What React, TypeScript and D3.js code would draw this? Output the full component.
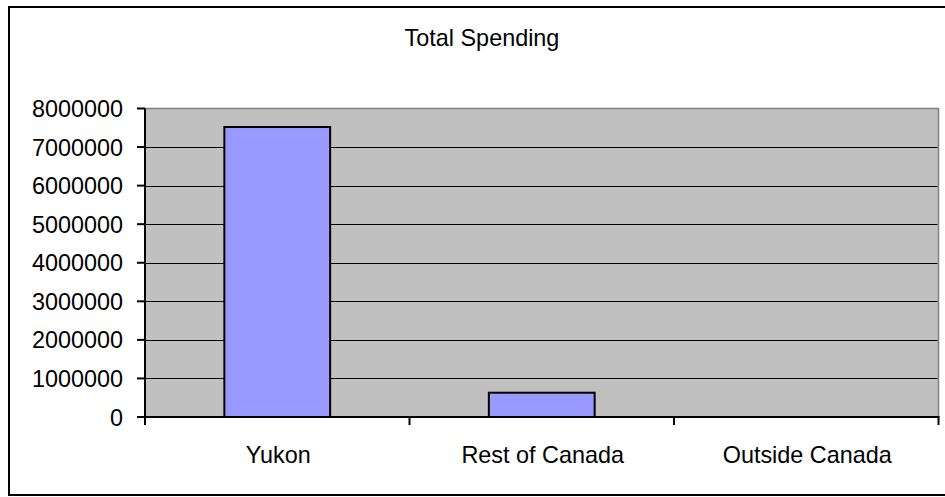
import React from "react";
import * as d3 from "d3";

const categories: string[] = ["Yukon", "Rest of Canada", "Outside Canada"];
const values: number[] = [7520000, 630000, 0];
const yTicks: number[] = [0, 1000000, 2000000, 3000000, 4000000, 5000000, 6000000, 7000000, 8000000];
const title = "Total Spending";

export default function App() {
  const W = 945;
  const H = 497;
  const left = 145;
  const right = 938.5;
  const top = 108.5;
  const bottom = 417;
  const font = "'Liberation Sans', Arial, sans-serif";
  const fs = 23.4;

  const x = d3.scaleBand<string>().domain(categories).range([left, right]).paddingInner(0.6).paddingOuter(0.3);
  const y = d3.scaleLinear().domain([0, 8000000]).range([bottom, top]);
  const step = x.step();
  const catTicks = d3.range(categories.length + 1).map((i) => left + i * ((right - left) / categories.length));

  return (
    <svg width={W} height={H} style={{ position: "absolute", left: 0, top: 0, display: "block" }}>
      <rect x={0} y={0} width={W} height={H} fill="#ffffff" />
      <rect x={9} y={7} width={960} height={488} fill="none" stroke="#000" strokeWidth={2} />
      <text x={482} y={46} textAnchor="middle" fontFamily={font} fontSize={fs} fill="#000">{title}</text>
      {/* plot area */}
      <rect x={left} y={top} width={right - left} height={bottom - top} fill="#C0C0C0" stroke="#808080" strokeWidth={1.5} />
      {/* gridlines */}
      {yTicks.filter((t) => t > 0 && t < 8000000).map((t) => (
        <line key={"g" + t} x1={left} x2={right - 1} y1={Math.round(y(t)) + 0.5} y2={Math.round(y(t)) + 0.5} stroke="#000" strokeWidth={1} />
      ))}
      {/* bars */}
      {categories.map((c, i) => {
        const v = values[i];
        if (v <= 0) return null;
        return (
          <rect key={c} x={x(c)!} y={y(v)} width={x.bandwidth()} height={bottom - y(v)} fill="#9999FF" stroke="#000" strokeWidth={2} />
        );
      })}
      {/* y axis */}
      <line x1={left} x2={left} y1={top} y2={bottom} stroke="#000" strokeWidth={2} />
      {yTicks.map((t) => (
        <g key={"yt" + t}>
          <line x1={137} x2={left} y1={y(t)} y2={y(t)} stroke="#000" strokeWidth={2} />
          <text x={123} y={y(t) + 8.5} textAnchor="end" fontFamily={font} fontSize={fs} fill="#000">{t}</text>
        </g>
      ))}
      {/* x axis */}
      <line x1={left - 1} x2={right + 1} y1={bottom} y2={bottom} stroke="#000" strokeWidth={2} />
      {catTicks.map((tx, i) => (
        <line key={"xt" + i} x1={tx} x2={tx} y1={bottom} y2={bottom + 8} stroke="#000" strokeWidth={2} />
      ))}
      {categories.map((c) => (
        <text key={"xl" + c} x={x(c)! + x.bandwidth() / 2 + 1} y={463} textAnchor="middle" fontFamily={font} fontSize={fs} fill="#000">{c}</text>
      ))}
    </svg>
  );
}
